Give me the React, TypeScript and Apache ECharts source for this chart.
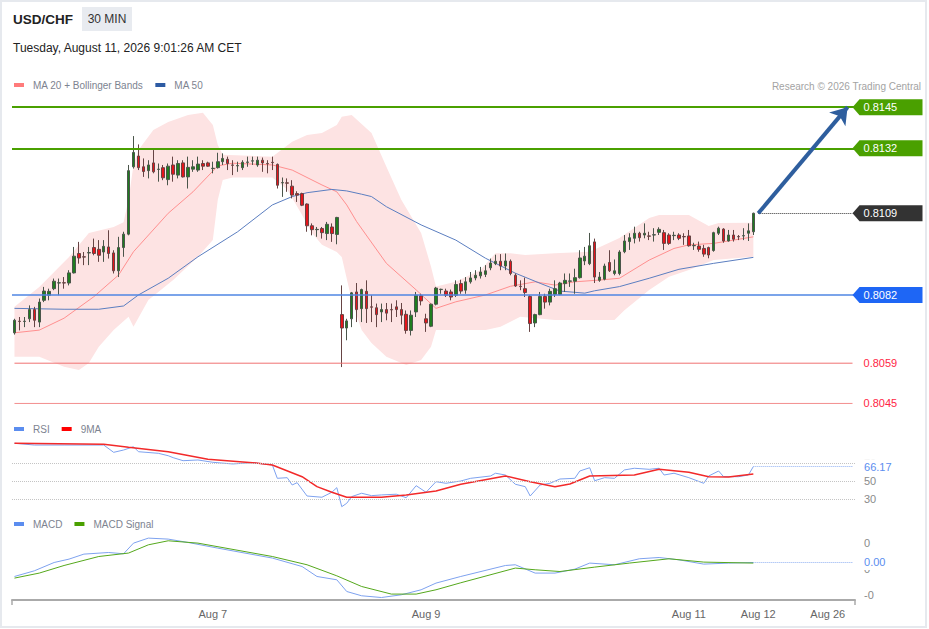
import React, { useEffect, useRef } from 'react';
import * as echarts from 'echarts';

const FONT = '"Liberation Sans", Arial, Helvetica, sans-serif';

const pairName = 'USD/CHF';
const timeframe = '30 MIN';
const timestampText = 'Tuesday, August 11, 2026 9:01:26 AM CET';
const creditText = 'Research © 2026 Trading Central';

const SLOT_COUNT = 170;
const xTickLabels = ['Aug 7', 'Aug 9', 'Aug 11', 'Aug 12', 'Aug 26'];
const xTickSlots = [40, 83, 136, 150, 164];

// [open, high, low, close]
const candles: number[][] = [
  [0.80689, 0.80736, 0.80683, 0.80731], [0.80728, 0.80742, 0.80697, 0.80727], [0.80727, 0.80742, 0.80708, 0.80728],
  [0.80736, 0.80781, 0.80725, 0.80767], [0.80767, 0.80776, 0.80708, 0.80731], [0.80725, 0.80804, 0.80708, 0.80792],
  [0.80798, 0.80843, 0.80792, 0.80829], [0.80815, 0.80837, 0.80798, 0.80828], [0.80837, 0.80871, 0.80832, 0.80862],
  [0.80856, 0.80871, 0.80815, 0.80857], [0.80857, 0.80876, 0.80837, 0.80856], [0.80856, 0.80899, 0.80848, 0.80890],
  [0.80890, 0.80977, 0.80888, 0.80946], [0.80955, 0.80994, 0.80921, 0.80940], [0.80944, 0.80960, 0.80916, 0.80943],
  [0.80957, 0.80977, 0.80916, 0.80958], [0.80975, 0.81005, 0.80949, 0.80955], [0.80969, 0.81000, 0.80927, 0.80949],
  [0.80960, 0.81000, 0.80927, 0.80979], [0.80977, 0.81033, 0.80938, 0.80955], [0.80957, 0.80966, 0.80888, 0.80897],
  [0.80897, 0.81011, 0.80876, 0.80975], [0.80975, 0.81028, 0.80944, 0.81020], [0.81020, 0.81252, 0.81016, 0.81233],
  [0.81246, 0.81349, 0.81240, 0.81294], [0.81282, 0.81321, 0.81235, 0.81243], [0.81246, 0.81274, 0.81212, 0.81230],
  [0.81233, 0.81268, 0.81207, 0.81252], [0.81259, 0.81302, 0.81224, 0.81229], [0.81237, 0.81257, 0.81196, 0.81238],
  [0.81243, 0.81252, 0.81201, 0.81209], [0.81203, 0.81257, 0.81184, 0.81248], [0.81252, 0.81280, 0.81196, 0.81221],
  [0.81218, 0.81268, 0.81207, 0.81257], [0.81259, 0.81268, 0.81210, 0.81212], [0.81212, 0.81280, 0.81173, 0.81244],
  [0.81238, 0.81268, 0.81229, 0.81246], [0.81235, 0.81280, 0.81229, 0.81255], [0.81257, 0.81268, 0.81235, 0.81248],
  [0.81259, 0.81263, 0.81246, 0.81248], [0.81240, 0.81263, 0.81224, 0.81241], [0.81243, 0.81293, 0.81240, 0.81263],
  [0.81263, 0.81291, 0.81252, 0.81274], [0.81271, 0.81280, 0.81235, 0.81257], [0.81252, 0.81268, 0.81218, 0.81251],
  [0.81249, 0.81263, 0.81229, 0.81250], [0.81243, 0.81268, 0.81235, 0.81261], [0.81261, 0.81280, 0.81246, 0.81262],
  [0.81265, 0.81280, 0.81252, 0.81266], [0.81252, 0.81280, 0.81246, 0.81268], [0.81268, 0.81277, 0.81229, 0.81259],
  [0.81257, 0.81268, 0.81224, 0.81256], [0.81261, 0.81280, 0.81235, 0.81260], [0.81254, 0.81257, 0.81173, 0.81184],
  [0.81192, 0.81210, 0.81145, 0.81193], [0.81192, 0.81207, 0.81162, 0.81191], [0.81181, 0.81201, 0.81140, 0.81151],
  [0.81156, 0.81164, 0.81128, 0.81151], [0.81156, 0.81159, 0.81114, 0.81117], [0.81121, 0.81123, 0.81028, 0.81048],
  [0.81048, 0.81056, 0.81016, 0.81035], [0.81035, 0.81044, 0.81011, 0.81036], [0.81039, 0.81044, 0.81005, 0.81025],
  [0.81022, 0.81061, 0.81000, 0.81053], [0.81044, 0.81056, 0.80994, 0.81022], [0.81019, 0.81078, 0.80986, 0.81076],
  [0.80750, 0.80848, 0.80574, 0.80705], [0.80705, 0.80736, 0.80664, 0.80729], [0.80736, 0.80826, 0.80708, 0.80823],
  [0.80826, 0.80856, 0.80725, 0.80767], [0.80770, 0.80837, 0.80725, 0.80834], [0.80828, 0.80865, 0.80722, 0.80770],
  [0.80776, 0.80815, 0.80725, 0.80775], [0.80773, 0.80787, 0.80708, 0.80750], [0.80759, 0.80787, 0.80725, 0.80767],
  [0.80767, 0.80789, 0.80731, 0.80755], [0.80767, 0.80787, 0.80725, 0.80766], [0.80776, 0.80798, 0.80742, 0.80767],
  [0.80767, 0.80789, 0.80717, 0.80748], [0.80751, 0.80764, 0.80686, 0.80697], [0.80697, 0.80764, 0.80680, 0.80748],
  [0.80759, 0.80826, 0.80742, 0.80815], [0.80813, 0.80820, 0.80781, 0.80796], [0.80736, 0.80753, 0.80692, 0.80722],
  [0.80711, 0.80787, 0.80708, 0.80785], [0.80785, 0.80843, 0.80781, 0.80839], [0.80834, 0.80837, 0.80820, 0.80835],
  [0.80829, 0.80837, 0.80809, 0.80815], [0.80826, 0.80834, 0.80798, 0.80809], [0.80815, 0.80865, 0.80809, 0.80851],
  [0.80854, 0.80867, 0.80820, 0.80829], [0.80832, 0.80876, 0.80820, 0.80860], [0.80860, 0.80893, 0.80854, 0.80873],
  [0.80873, 0.80899, 0.80865, 0.80882], [0.80880, 0.80910, 0.80871, 0.80893], [0.80885, 0.80916, 0.80876, 0.80897],
  [0.80907, 0.80938, 0.80899, 0.80923], [0.80921, 0.80951, 0.80916, 0.80929], [0.80929, 0.80953, 0.80899, 0.80913],
  [0.80913, 0.80955, 0.80899, 0.80930], [0.80929, 0.80935, 0.80882, 0.80888], [0.80882, 0.80888, 0.80843, 0.80846],
  [0.80845, 0.80865, 0.80832, 0.80844], [0.80837, 0.80874, 0.80809, 0.80824], [0.80811, 0.80815, 0.80692, 0.80720],
  [0.80722, 0.80753, 0.80708, 0.80750], [0.80750, 0.80826, 0.80748, 0.80811], [0.80811, 0.80820, 0.80770, 0.80792],
  [0.80792, 0.80837, 0.80781, 0.80828], [0.80818, 0.80865, 0.80809, 0.80837], [0.80818, 0.80860, 0.80815, 0.80856],
  [0.80854, 0.80888, 0.80826, 0.80865], [0.80862, 0.80888, 0.80843, 0.80863], [0.80862, 0.80904, 0.80820, 0.80874],
  [0.80874, 0.80966, 0.80871, 0.80940], [0.80930, 0.80977, 0.80916, 0.80946], [0.80921, 0.81024, 0.80916, 0.80981],
  [0.80994, 0.81005, 0.80856, 0.80876], [0.80865, 0.80893, 0.80860, 0.80876], [0.80869, 0.80921, 0.80865, 0.80913],
  [0.80925, 0.80966, 0.80893, 0.80897], [0.80888, 0.80935, 0.80882, 0.80897], [0.80888, 0.80966, 0.80882, 0.80960],
  [0.80961, 0.81017, 0.80956, 0.80997], [0.80995, 0.81023, 0.80967, 0.81008], [0.81006, 0.81045, 0.80989, 0.81023],
  [0.81023, 0.81028, 0.80995, 0.81008], [0.81017, 0.81056, 0.81006, 0.81023], [0.81014, 0.81028, 0.81000, 0.81013],
  [0.81017, 0.81040, 0.80995, 0.81018], [0.81026, 0.81043, 0.81017, 0.81036], [0.81025, 0.81034, 0.80967, 0.80989],
  [0.81017, 0.81023, 0.80984, 0.80989], [0.81015, 0.81028, 0.81000, 0.81016], [0.81017, 0.81023, 0.81000, 0.81006],
  [0.81012, 0.81023, 0.80984, 0.81011], [0.81014, 0.81034, 0.80978, 0.80981], [0.80981, 0.80991, 0.80967, 0.80982],
  [0.80980, 0.80995, 0.80961, 0.80969], [0.80972, 0.80984, 0.80944, 0.80953], [0.80975, 0.80978, 0.80939, 0.80950],
  [0.80965, 0.81028, 0.80961, 0.81025], [0.81023, 0.81045, 0.81017, 0.81040], [0.81037, 0.81040, 0.80991, 0.80997],
  [0.80997, 0.81034, 0.80995, 0.81017], [0.81017, 0.81034, 0.80995, 0.81003], [0.81012, 0.81017, 0.81000, 0.81011],
  [0.81014, 0.81040, 0.81000, 0.81015], [0.81023, 0.81056, 0.80997, 0.81031], [0.81028, 0.81092, 0.81017, 0.81090],
];

// [slot, value] points
const bbUpper: number[][] = [
  [0, 0.80776], [5, 0.80843], [11, 0.80943], [15, 0.81024], [20, 0.81044], [22, 0.81060], [23, 0.81135],
  [24, 0.81252], [25, 0.81302], [28, 0.81369], [31, 0.81396], [35, 0.81420], [38, 0.81427], [40, 0.81386],
  [41, 0.81319], [42, 0.81286], [52, 0.81280], [56, 0.81330], [59, 0.81353], [62, 0.81359], [65, 0.81386],
  [66, 0.81414], [68, 0.81420], [72, 0.81359], [75, 0.81246], [78, 0.81135], [82, 0.81024], [84, 0.80911],
  [85, 0.80844], [89, 0.80860], [94, 0.80900], [97, 0.80956], [100, 0.80956], [103, 0.80950], [109, 0.80956],
  [116, 0.80961], [122, 0.81007], [128, 0.81074], [130, 0.81084], [136, 0.81084], [140, 0.81047], [142, 0.81057],
  [149, 0.81058],
];
const bbLower: number[][] = [
  [0, 0.80609], [5, 0.80609], [10, 0.80575], [13, 0.80564], [15, 0.80588], [17, 0.80642], [20, 0.80698],
  [23, 0.80743], [24, 0.80709], [27, 0.80799], [32, 0.80866], [37, 0.80944], [40, 0.81000], [41, 0.81135],
  [42, 0.81202], [44, 0.81210], [52, 0.81210], [55, 0.81170], [58, 0.81084], [60, 0.81024], [62, 0.80984],
  [65, 0.80960], [66, 0.80943], [68, 0.80799], [70, 0.80698], [72, 0.80655], [75, 0.80609], [79, 0.80581],
  [82, 0.80598], [84, 0.80642], [85, 0.80698], [90, 0.80698], [95, 0.80698], [98, 0.80709], [102, 0.80743],
  [109, 0.80732], [116, 0.80732], [121, 0.80732], [123, 0.80765], [128, 0.80833], [132, 0.80877], [136, 0.80900],
  [141, 0.80933], [149, 0.80944],
];
const ma20: number[][] = [
  [0, 0.80689], [5, 0.80698], [10, 0.80738], [16, 0.80810], [21, 0.80883], [24, 0.80961], [31, 0.81090],
  [36, 0.81162], [41, 0.81249], [44, 0.81258], [52, 0.81252], [56, 0.81235], [62, 0.81185], [65, 0.81162],
  [67, 0.81118], [69, 0.81062], [75, 0.80922], [81, 0.80833], [85, 0.80771], [89, 0.80793], [95, 0.80816],
  [100, 0.80845], [105, 0.80860], [109, 0.80849], [113, 0.80860], [118, 0.80866], [122, 0.80872], [128, 0.80933],
  [133, 0.80972], [136, 0.80984], [141, 0.80989], [149, 0.81011],
];
const ma50: number[][] = [
  [0, 0.80771], [10, 0.80768], [17, 0.80768], [22, 0.80779], [25, 0.80816], [31, 0.80872], [37, 0.80944],
  [45, 0.81028], [52, 0.81118], [56, 0.81146], [59, 0.81159], [64, 0.81170], [67, 0.81165], [70, 0.81154],
  [72, 0.81146], [75, 0.81112], [82, 0.81051], [89, 0.81000], [95, 0.80939], [101, 0.80889], [106, 0.80855],
  [110, 0.80829], [115, 0.80822], [117, 0.80830], [122, 0.80844], [128, 0.80872], [134, 0.80902], [141, 0.80922],
  [149, 0.80942],
];

const rsiLine: number[][] = [
  [0, 92.4], [4, 90.4], [10, 90.4], [18, 90.4], [20, 82.2], [22, 84.8], [24, 88.5], [25, 82.9], [29, 81.1],
  [31, 78.4], [32, 76.2], [34, 72.8], [37, 73.6], [40, 71.0], [44, 69.1], [48, 70.6], [52, 68.0], [53, 53.0],
  [55, 53.7], [56, 45.5], [57, 48.1], [59, 33.1], [62, 31.7], [64, 37.3], [65, 42.5], [66, 21.1], [67, 24.9],
  [68, 32.4], [70, 36.2], [72, 33.5], [74, 34.3], [77, 35.1], [79, 31.2], [81, 44.7], [83, 37.3], [85, 49.2],
  [87, 47.4], [90, 50.0], [92, 53.0], [96, 55.6], [97, 58.7], [99, 56.7], [101, 46.3], [103, 43.6], [104, 33.1],
  [106, 45.5], [108, 47.4], [110, 52.2], [113, 53.0], [114, 61.2], [116, 64.9], [117, 50.3], [119, 53.7],
  [121, 53.0], [123, 62.4], [125, 64.3], [128, 63.1], [130, 64.3], [131, 56.7], [133, 58.7], [136, 53.7],
  [139, 47.4], [140, 55.6], [142, 61.2], [143, 54.8], [146, 54.8], [148, 56.7], [149, 66.17],
];
const rsiMa9: number[][] = [
  [0, 92.4], [18, 91.2], [23, 87.9], [31, 82.9], [39, 74.4], [48, 70.6], [52, 68.0], [58, 54.8], [61, 43.6],
  [64, 37.3], [67, 31.7], [74, 31.7], [79, 34.3], [85, 38.8], [90, 46.3], [99, 55.6], [104, 49.2], [109, 43.6],
  [112, 46.6], [116, 55.6], [125, 56.7], [130, 63.1], [136, 59.8], [140, 54.8], [144, 54.5], [149, 57.9],
];
const rsiGuides = [70, 50, 30];

const macdLine: number[][] = [
  [0, -0.000118], [4, -0.000031], [8, 0.000097], [11, 0.000149], [14, 0.000226], [19, 0.000251], [22, 0.000231],
  [24, 0.000395], [27, 0.000472], [31, 0.000457], [35, 0.000405], [41, 0.000318], [52, 0.000165], [58, 0.000035],
  [61, -0.000118], [65, -0.000169], [67, -0.000349], [70, -0.000415], [74, -0.000442], [78, -0.0004],
  [82, -0.000323], [85, -0.00022], [90, -0.000118], [99, 0.000051], [101, 0.000062], [105, -0.000066],
  [109, -0.000066], [113, -0.000005], [116, 0.000088], [121, 0.000062], [126, 0.000154], [130, 0.000174],
  [134, 0.000138], [139, 0.000072], [144, 0.000088], [149, 0.000097],
];
const macdSignal: number[][] = [
  [0, -0.000143], [5, -0.000066], [10, 0.000051], [17, 0.000189], [23, 0.000242], [27, 0.000369], [31, 0.000431],
  [37, 0.000395], [52, 0.000189], [59, 0.000062], [65, -0.000108], [70, -0.000272], [76, -0.000389],
  [81, -0.000389], [85, -0.000323], [90, -0.000215], [101, 0.000011], [105, -0.000015], [110, -0.000042],
  [117, 0.000026], [124, 0.000088], [132, 0.000154], [139, 0.000103], [149, 0.000088],
];
const macdAxisMarks = [0.0004, 0, -0.0004];

const resistanceValues = [0.81446, 0.81308];
const resistanceLabels = ['0.8145', '0.8132'];
const pivotValue = 0.80816;
const pivotLabel = '0.8082';
const supportValues = [0.80587, 0.80452];
const supportLabels = ['0.8059', '0.8045'];
const arrowTargetSlot = 168;

const GREEN = '#4aa000';
const SUPPORT_RED = '#f07272';
const TAG_PATH = 'path://M0,8L7,0L70,0L70,16L7,16Z';
const LEGEND_ICON = 'path://M0,0L10,0L10,4L0,4Z';

export default function App() {
  const ref = useRef<HTMLDivElement>(null);

  useEffect(() => {
    document.body.style.margin = '0';
    const chart = echarts.init(ref.current as HTMLDivElement, null, { renderer: 'svg' });

    const categories = Array.from({ length: SLOT_COUNT }, (_, i) => {
      const k = xTickSlots.indexOf(i);
      return k >= 0 ? xTickLabels[k] : '';
    });
    const candleData = candles.map(([o, h, l, c]) => [o, c, l, h]);
    const lastIdx = candles.length - 1;
    const lastClose = candles[lastIdx][3];
    const lastRsi = rsiLine[rsiLine.length - 1][1];
    const lastMacd = macdLine[macdLine.length - 1][1];
    const endSlot = SLOT_COUNT - 1;

    const legendBase = {
      padding: 0,
      icon: LEGEND_ICON,
      itemWidth: 18,
      itemHeight: 4,
      itemGap: 12,
      selectedMode: false,
      left: 14,
      textStyle: { color: '#7d8390', fontSize: 10, fontFamily: FONT },
    };

    const tag = (name: string, value: number, color: string, boxed: boolean) => ({
      name,
      coord: [endSlot, value],
      symbol: boxed ? TAG_PATH : 'rect',
      symbolSize: [70, 16],
      symbolOffset: [35, 0],
      itemStyle: { color: boxed ? color : 'rgba(0,0,0,0)' },
      label: { color: boxed ? '#ffffff' : color },
    });

    const supportSeries = supportValues.map((v, i) => ({
      name: 'support' + i, type: 'line', xAxisIndex: 0, yAxisIndex: 0, symbol: 'none', silent: true, z: 6,
      data: [[0, v], [endSlot, v]],
      itemStyle: { color: SUPPORT_RED },
      lineStyle: { color: SUPPORT_RED, width: 1, type: 'solid', opacity: i === 0 ? 1 : 0.8 },
    }));

    const option: any = {
      animation: false,
      textStyle: { fontFamily: FONT },
      grid: [
        { left: 12, width: 843, top: 100, height: 310, outerBoundsMode: 'none' },
        { left: 12, width: 843, top: 436.5, height: 75.6, outerBoundsMode: 'none' },
        { left: 12, width: 843, top: 537.6, height: 62.4, outerBoundsMode: 'none' },
      ],
      xAxis: [0, 1, 2].map((g) => ({
        type: 'category',
        gridIndex: g,
        data: categories,
        boundaryGap: true,
        show: g === 2,
        axisLine: { show: g === 2, onZero: false, lineStyle: { color: '#aaaaaa', width: 2 } },
        axisTick: {
          show: g === 2,
          interval: (i: number) => i === 0 || i === SLOT_COUNT,
          length: 5,
          lineStyle: { color: '#aaaaaa', width: 1.5 },
        },
        axisLabel: {
          show: g === 2,
          interval: (_i: number, v: string) => v !== '',
          color: '#666666',
          fontSize: 11,
          margin: 8,
          fontFamily: FONT,
        },
        splitLine: { show: false },
      })),
      yAxis: [
        { type: 'value', gridIndex: 0, min: 0.8043, max: 0.8147, show: false, splitLine: { show: false } },
        { type: 'value', gridIndex: 1, min: 15, max: 100, show: false, splitLine: { show: false } },
        { type: 'value', gridIndex: 2, min: -0.00048, max: 0.00048, show: false, splitLine: { show: false } },
      ],
      legend: [
        { ...legendBase, top: 80, data: ['MA 20 + Bollinger Bands', 'MA 50'] },
        { ...legendBase, top: 424, data: ['RSI', '9MA'] },
        { ...legendBase, top: 519, data: ['MACD', 'MACD Signal'] },
      ],
      graphic: [
        {
          type: 'rect', silent: true, z: -10,
          shape: { x: 1, y: 1, width: 925, height: 626 },
          style: { fill: 'none', stroke: '#e6e9ee', lineWidth: 2 },
        },
        {
          type: 'text', x: 13, y: 19,
          style: { text: pairName, fontSize: 13.5, fontWeight: 'bold', fontFamily: FONT, fill: '#222222', verticalAlign: 'middle' },
        },
        { type: 'rect', shape: { x: 82, y: 7, width: 50, height: 24 }, style: { fill: '#e8ebf0' } },
        {
          type: 'text', x: 107, y: 19,
          style: { text: timeframe, fontSize: 12, fontFamily: FONT, fill: '#333333', align: 'center', verticalAlign: 'middle' },
        },
        {
          type: 'text', x: 13, y: 48,
          style: { text: timestampText, fontSize: 12, fontFamily: FONT, fill: '#222222', verticalAlign: 'middle' },
        },
        {
          type: 'text', x: 921, y: 86,
          style: { text: creditText, fontSize: 10, fontFamily: FONT, fill: '#a3a3a3', align: 'right', verticalAlign: 'middle' },
        },
      ],
      series: [
        {
          name: 'bollinger', type: 'custom', xAxisIndex: 0, yAxisIndex: 0, silent: true, z: 1,
          data: [[0, bbUpper[0][1]]],
          renderItem: (_params: any, api: any) => {
            const pts = [
              ...bbUpper.map(([x, v]) => api.coord([x, v])),
              ...bbLower.slice().reverse().map(([x, v]) => api.coord([x, v])),
            ];
            return { type: 'polygon', shape: { points: pts }, style: { fill: '#fde3e3' } };
          },
        },
        {
          name: 'MA 20 + Bollinger Bands', type: 'line', xAxisIndex: 0, yAxisIndex: 0, data: ma20, symbol: 'none', z: 3,
          itemStyle: { color: '#ff7b7b' }, lineStyle: { color: '#ff8f8f', width: 1 },
        },
        {
          name: 'MA 50', type: 'line', xAxisIndex: 0, yAxisIndex: 0, data: ma50, symbol: 'none', z: 3,
          itemStyle: { color: '#2d5ba3' }, lineStyle: { color: '#5b7ec0', width: 1 },
        },
        {
          name: 'USD/CHF', type: 'candlestick', xAxisIndex: 0, yAxisIndex: 0, data: candleData, barWidth: 3, z: 4,
          itemStyle: { color: '#1f7d1f', color0: '#e5141b', borderColor: '#4a554a', borderColor0: '#664444', borderWidth: 1 },
        },
        ...supportSeries,
        {
          name: 'levels', type: 'line', xAxisIndex: 0, yAxisIndex: 0, data: [], clip: false, z: 6, silent: true,
          markLine: {
            silent: true, symbol: ['none', 'none'], label: { show: false }, animation: false, precision: 6,
            data: [
              { yAxis: resistanceValues[0], lineStyle: { color: GREEN, width: 2, type: 'solid', opacity: 1 } },
              { yAxis: resistanceValues[1], lineStyle: { color: GREEN, width: 2, type: 'solid', opacity: 1 } },
              { yAxis: pivotValue, lineStyle: { color: '#4f86e3', width: 1.5, type: 'solid', opacity: 1 } },
              [
                { coord: [lastIdx + 1, lastClose], lineStyle: { color: '#333333', width: 1, type: 'dotted', opacity: 1 } },
                { coord: [endSlot, lastClose] },
              ],
              [
                { coord: [lastIdx + 1, lastClose], symbol: 'none', lineStyle: { color: '#2e5e9e', width: 4, type: 'solid', opacity: 1 } },
                { coord: [arrowTargetSlot, resistanceValues[0]], symbol: 'arrow', symbolSize: 16 },
              ],
            ],
          },
          markPoint: {
            silent: true, animation: false,
            label: { show: true, position: 'insideLeft', distance: 11, formatter: '{b}', fontSize: 11, fontFamily: FONT },
            data: [
              tag(resistanceLabels[0], resistanceValues[0], GREEN, true),
              tag(resistanceLabels[1], resistanceValues[1], GREEN, true),
              tag(lastClose.toFixed(4), lastClose, '#333333', true),
              tag(pivotLabel, pivotValue, '#1e66f5', true),
              tag(supportLabels[0], supportValues[0], '#ff2545', false),
              tag(supportLabels[1], supportValues[1], '#ff2545', false),
            ],
          },
        },
        {
          name: 'RSI', type: 'line', xAxisIndex: 1, yAxisIndex: 1, data: rsiLine, symbol: 'none', z: 3,
          itemStyle: { color: '#5b8def' }, lineStyle: { color: '#7ea2ef', width: 1 },
        },
        {
          name: '9MA', type: 'line', xAxisIndex: 1, yAxisIndex: 1, data: rsiMa9, symbol: 'none', z: 3,
          itemStyle: { color: '#ff0000' }, lineStyle: { color: '#f22a2a', width: 1.5 },
        },
        {
          name: 'rsiGuides', type: 'line', xAxisIndex: 1, yAxisIndex: 1, data: [], clip: false, z: 2, silent: true,
          markLine: {
            silent: true, symbol: ['none', 'none'], animation: false, precision: 4,
            data: [
              ...rsiGuides.map((v) => ({
                yAxis: v,
                lineStyle: { color: '#c4c4c4', width: 1, type: 'dotted' },
                label: {
                  show: true, position: 'end', distance: 9, color: '#8a8a8a', fontSize: 11, fontFamily: FONT,
                  formatter: (p: any) => Number(p.value).toFixed(0),
                },
              })),
              [
                {
                  coord: [lastIdx, lastRsi],
                  lineStyle: { color: '#8fb0f2', width: 1, type: 'dotted' },
                  label: {
                    show: true, position: 'end', distance: 9.5, color: '#5b8def', fontSize: 11, fontFamily: FONT,
                    backgroundColor: '#ffffff', padding: [2, 2], formatter: lastRsi.toFixed(2),
                  },
                },
                { coord: [endSlot, lastRsi] },
              ],
            ],
          },
        },
        {
          name: 'MACD', type: 'line', xAxisIndex: 2, yAxisIndex: 2, data: macdLine, symbol: 'none', z: 3,
          itemStyle: { color: '#5b8def' }, lineStyle: { color: '#7ea2ef', width: 1 },
        },
        {
          name: 'MACD Signal', type: 'line', xAxisIndex: 2, yAxisIndex: 2, data: macdSignal, symbol: 'none', z: 3,
          itemStyle: { color: GREEN }, lineStyle: { color: '#55a81c', width: 1 },
        },
        {
          name: 'macdGuides', type: 'line', xAxisIndex: 2, yAxisIndex: 2, data: [], clip: false, z: 2, silent: true,
          markLine: {
            silent: true, symbol: ['none', 'none'], animation: false, precision: 8,
            data: [
              ...macdAxisMarks.map((v) => ({
                yAxis: v,
                lineStyle: { color: 'rgba(255,255,255,0)', width: 0.01 },
                label: {
                  show: true, position: 'end', distance: 9, color: '#8a8a8a', fontSize: 11, fontFamily: FONT,
                  formatter: (p: any) => Number(p.value).toFixed(0),
                },
              })),
              [
                {
                  coord: [lastIdx, lastMacd],
                  lineStyle: { color: '#8fb0f2', width: 1, type: 'dotted' },
                  label: {
                    show: true, position: 'end', distance: 9.5, color: '#5b8def', fontSize: 11, fontFamily: FONT,
                    backgroundColor: '#ffffff', padding: [2, 2], formatter: lastMacd.toFixed(2),
                  },
                },
                { coord: [endSlot, lastMacd] },
              ],
            ],
          },
        },
      ],
    };

    chart.setOption(option);
    return () => chart.dispose();
  }, []);

  return <div ref={ref} style={{ width: 929, height: 629 }} />;
}
